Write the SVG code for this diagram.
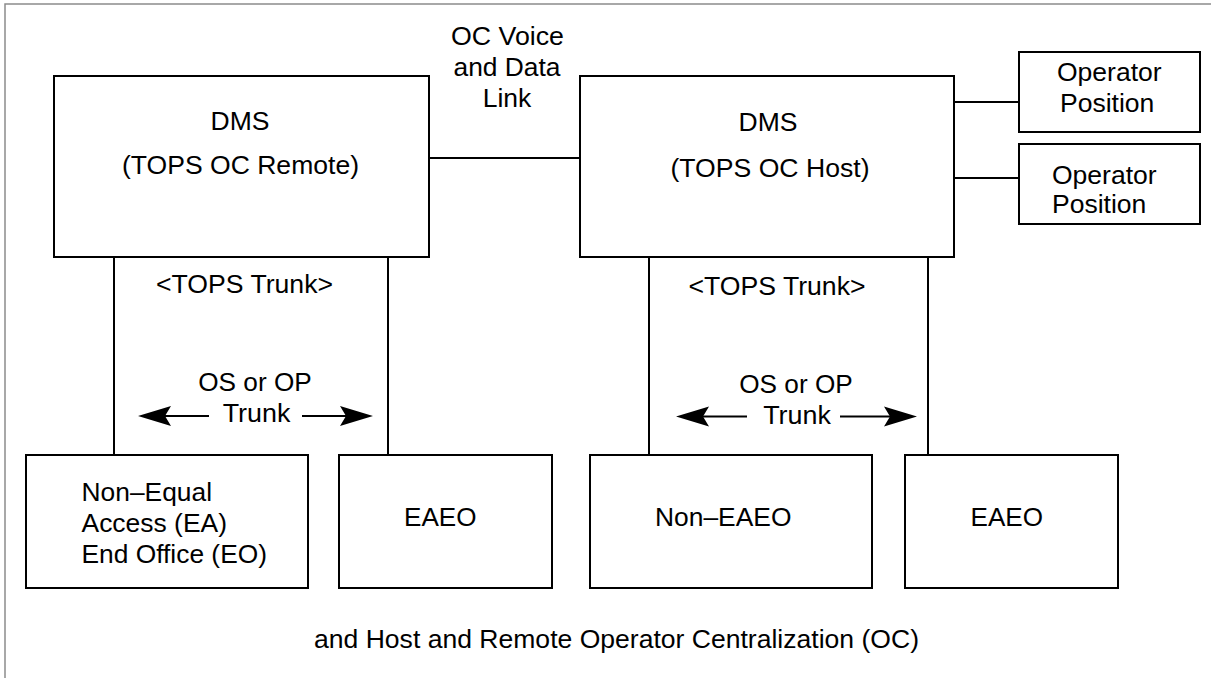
<svg xmlns="http://www.w3.org/2000/svg" width="1211" height="678" viewBox="0 0 1211 678">
<style>
.box{fill:#fff;stroke:#000;stroke-width:2}
.ln{stroke:#000;stroke-width:2;fill:none}
.t{font-family:"Liberation Sans",Arial,Helvetica,sans-serif;font-size:25px;fill:#000}
.m{text-anchor:middle}
.ah{fill:#000;stroke:none}
</style>
<rect width="1211" height="678" fill="#fff"/>
<path d="M5,678 V4 H1211" fill="none" stroke="#8c8c8c" stroke-width="1.5"/>
<g id="connectors">
<line class="ln" x1="429" y1="158" x2="580" y2="158"/>
<line class="ln" x1="954" y1="102" x2="1019" y2="102"/>
<line class="ln" x1="954" y1="178" x2="1019" y2="178"/>
<line class="ln" x1="114" y1="252" x2="114" y2="455"/>
<line class="ln" x1="388" y1="252" x2="388" y2="455"/>
<line class="ln" x1="649" y1="257" x2="649" y2="455"/>
<line class="ln" x1="928" y1="257" x2="928" y2="455"/>
</g>
<g id="dms-remote">
<rect class="box" x="54" y="76" width="375" height="181"/>
<text class="t m" x="240" y="130" textLength="58.9" lengthAdjust="spacingAndGlyphs">DMS</text>
<text class="t m" x="240.5" y="174" textLength="237" lengthAdjust="spacingAndGlyphs">(TOPS OC Remote)</text>
</g>
<g id="dms-host">
<rect class="box" x="580" y="76" width="374" height="181"/>
<text class="t m" x="768" y="131" textLength="58.9" lengthAdjust="spacingAndGlyphs">DMS</text>
<text class="t m" x="770" y="177" textLength="199" lengthAdjust="spacingAndGlyphs">(TOPS OC Host)</text>
</g>
<g id="link-label">
<text class="t m" x="507.5" y="45" textLength="113" lengthAdjust="spacingAndGlyphs">OC Voice</text>
<text class="t m" x="507" y="76" textLength="107" lengthAdjust="spacingAndGlyphs">and Data</text>
<text class="t m" x="507" y="107" textLength="48.6" lengthAdjust="spacingAndGlyphs">Link</text>
</g>
<g id="op-pos-1">
<rect class="box" x="1019" y="52" width="181" height="80"/>
<text class="t" x="1057" y="81" textLength="104.6" lengthAdjust="spacingAndGlyphs">Operator</text>
<text class="t" x="1060" y="112" textLength="94.3" lengthAdjust="spacingAndGlyphs">Position</text>
</g>
<g id="op-pos-2">
<rect class="box" x="1019" y="144" width="181" height="80"/>
<text class="t" x="1052" y="184" textLength="104.6" lengthAdjust="spacingAndGlyphs">Operator</text>
<text class="t" x="1052" y="213" textLength="94.3" lengthAdjust="spacingAndGlyphs">Position</text>
</g>
<g id="trunk-labels">
<text class="t" x="156" y="293" textLength="177" lengthAdjust="spacingAndGlyphs">&lt;TOPS Trunk&gt;</text>
<text class="t" x="688.5" y="295" textLength="177" lengthAdjust="spacingAndGlyphs">&lt;TOPS Trunk&gt;</text>
<text class="t m" x="255" y="391" textLength="113.5" lengthAdjust="spacingAndGlyphs">OS or OP</text>
<text class="t m" x="256.5" y="422" textLength="67.7" lengthAdjust="spacingAndGlyphs">Trunk</text>
<text class="t m" x="796" y="392.5" textLength="113.5" lengthAdjust="spacingAndGlyphs">OS or OP</text>
<text class="t m" x="797" y="424" textLength="67.7" lengthAdjust="spacingAndGlyphs">Trunk</text>
</g>
<g id="arrows">
<line class="ln" x1="160" y1="416" x2="209" y2="416"/>
<path class="ah" d="M138,416 L171,406 L165,416 L171,426 Z"/>
<line class="ln" x1="302" y1="416" x2="352" y2="416"/>
<path class="ah" d="M373,416 L340,406 L346,416 L340,426 Z"/>
<line class="ln" x1="698" y1="416.5" x2="747" y2="416.5"/>
<path class="ah" d="M676,416.5 L709,406.5 L703,416.5 L709,426.5 Z"/>
<line class="ln" x1="840" y1="416.5" x2="895" y2="416.5"/>
<path class="ah" d="M917,416.5 L884,406.5 L890,416.5 L884,426.5 Z"/>
</g>
<g id="non-ea-eo">
<rect class="box" x="26" y="455" width="282" height="133"/>
<text class="t" x="81.5" y="501" textLength="130.5" lengthAdjust="spacingAndGlyphs">Non–Equal</text>
<text class="t" x="81.5" y="532" textLength="145.5" lengthAdjust="spacingAndGlyphs">Access (EA)</text>
<text class="t" x="81.5" y="563" textLength="185.5" lengthAdjust="spacingAndGlyphs">End Office (EO)</text>
</g>
<g id="eaeo-1">
<rect class="box" x="339" y="455" width="213" height="133"/>
<text class="t" x="404" y="526" textLength="72.5" lengthAdjust="spacingAndGlyphs">EAEO</text>
</g>
<g id="non-eaeo">
<rect class="box" x="590" y="455" width="282" height="133"/>
<text class="t" x="655" y="526" textLength="136.5" lengthAdjust="spacingAndGlyphs">Non–EAEO</text>
</g>
<g id="eaeo-2">
<rect class="box" x="905" y="455" width="213" height="133"/>
<text class="t" x="970.5" y="526" textLength="72.5" lengthAdjust="spacingAndGlyphs">EAEO</text>
</g>
<text class="t" x="314" y="648" textLength="605" lengthAdjust="spacingAndGlyphs">and Host and Remote Operator Centralization (OC)</text>
</svg>
